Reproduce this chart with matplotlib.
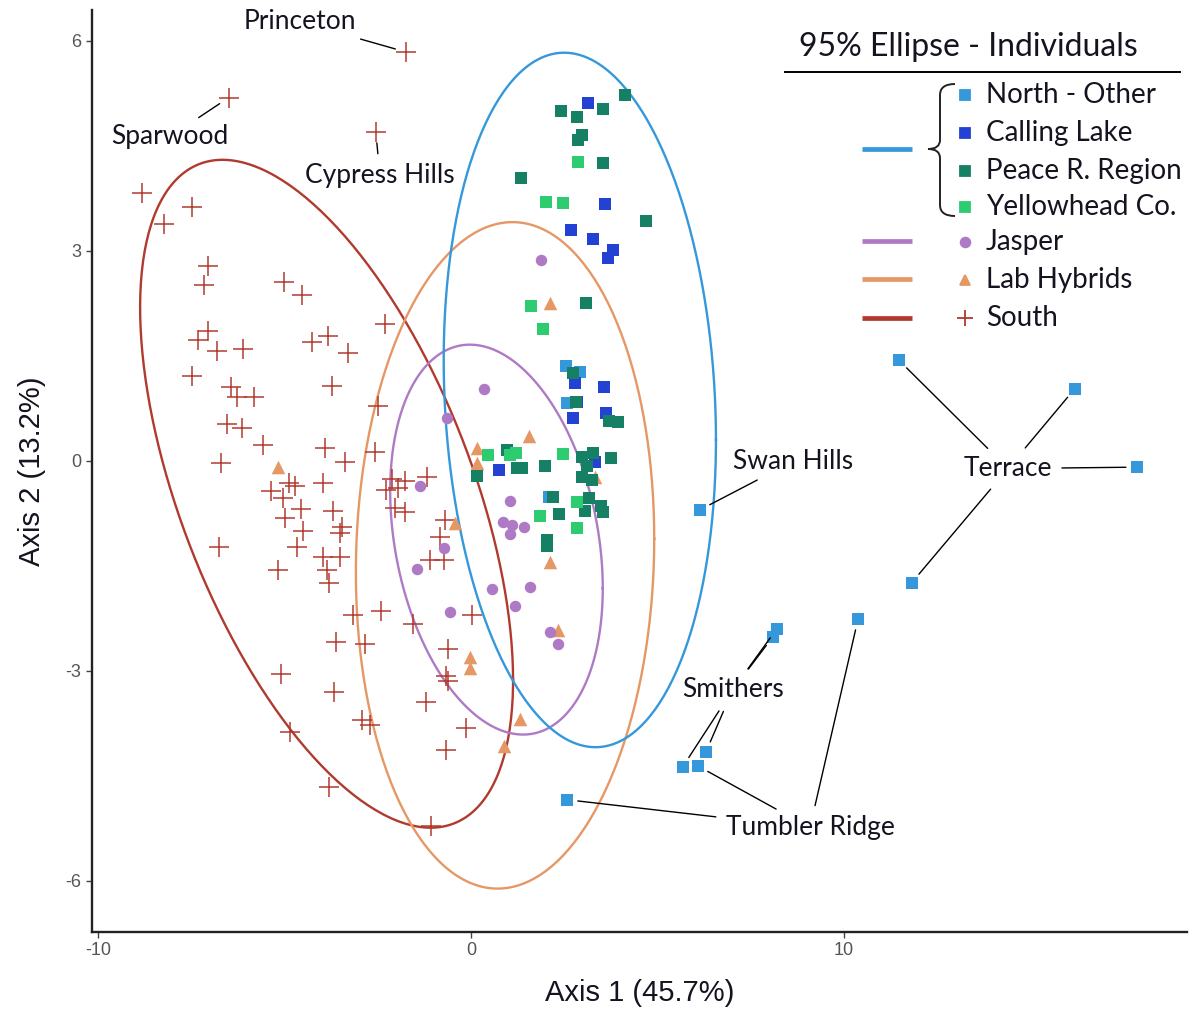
import numpy as np
import matplotlib.pyplot as plt
from matplotlib.path import Path
from matplotlib.patches import PathPatch
from matplotlib.lines import Line2D

plt.rcParams['font.family'] = ['Lato', 'DejaVu Sans']
plt.rcParams['axes.unicode_minus'] = False

W, H = 1197, 1010

# ---- PCA scores per group (Axis 1, Axis 2) ----
south_x = [-8.83, -8.23, -7.47, -7.04, -7.16, -5.01, -4.53, -2.31, -7.04, -7.31,
           -6.82, -6.10, -4.27, -3.84, -3.29, -7.49, -6.42, -6.28, -5.81, -3.72,
           -2.49, -6.55, -6.15, -5.58, -6.71, -3.91, -3.38, -2.57, -3.96, -5.37,
           -4.87, -4.72, -5.05, -4.56, -4.99, -3.69, -3.47, -4.51, -3.51, -6.75,
           -4.66, -3.96, -3.51, -5.18, -3.85, -3.80, -2.12, -1.77, -2.28, -1.96,
           -1.18, -2.04, -1.77, -0.70, -0.83, -1.10, -0.72, -3.16, -2.42, -1.56,
           0.02, -3.63, -2.84, -0.61, -5.10, -0.67, -0.61, -3.66, -1.21, -2.93,
           -2.71, -0.12, -4.85, -0.67, -3.80, -1.08, -1.74, -6.49, -2.55]
south_y = [3.83, 3.39, 3.62, 2.79, 2.51, 2.56, 2.37, 1.95, 1.85, 1.72,
           1.57, 1.60, 1.70, 1.78, 1.54, 1.21, 1.06, 0.91, 0.91, 1.07,
           0.79, 0.53, 0.47, 0.23, -0.03, 0.19, -0.01, 0.12, -0.31, -0.43,
           -0.32, -0.36, -0.53, -0.69, -0.82, -0.71, -0.94, -1.00, -1.03, -1.23,
           -1.23, -1.38, -1.37, -1.56, -1.56, -1.75, -0.26, -0.29, -0.41, -0.39,
           -0.23, -0.67, -0.73, -0.85, -1.09, -1.41, -1.41, -2.20, -2.15, -2.33,
           -2.20, -2.59, -2.61, -2.69, -3.05, -3.08, -3.15, -3.30, -3.44, -3.70,
           -3.77, -3.82, -3.87, -4.13, -4.66, -5.22, 5.84, 5.19, 4.70]

lab_x = [-5.17, -0.43, 0.16, 0.16, 1.55, 2.12, 2.12, 2.33, -0.03, -0.03, 1.31, 0.88, 3.32]
lab_y = [-0.09, -0.89, 0.19, -0.03, 0.36, 2.26, -1.44, -2.41, -2.80, -2.96, -3.69, -4.07, -0.23]

jasper_x = [1.88, 0.35, -0.64, -1.37, 1.05, 0.86, 1.10, 1.42, 1.05, -0.72,
            -1.45, 0.56, 1.58, 1.18, -0.56, 2.12, 2.33]
jasper_y = [2.87, 1.03, 0.61, -0.36, -0.57, -0.87, -0.91, -0.94, -1.04, -1.24,
            -1.54, -1.83, -1.80, -2.07, -2.16, -2.44, -2.61]

north_x = [11.47, 16.19, 17.86, 11.82, 10.38, 6.14, 8.20, 8.10, 6.30, 6.09,
           5.68, 2.57, 2.55, 2.92, 2.57, 2.09]
north_y = [1.44, 1.03, -0.09, -1.74, -2.26, -0.70, -2.40, -2.51, -4.16, -4.36,
           -4.37, -4.84, 1.36, 1.27, 0.83, -0.51]

calling_x = [3.14, 3.59, 2.68, 3.27, 3.81, 3.67, 2.79, 3.57, 2.84, 2.73, 3.62, 0.75, 3.32]
calling_y = [5.11, 3.67, 3.30, 3.17, 3.01, 2.90, 1.11, 1.06, 0.84, 0.61, 0.69, -0.13, -0.01]

peace_x = [4.13, 2.41, 3.54, 2.84, 2.98, 2.87, 3.54, 1.34, 4.69, 3.08,
           2.73, 2.82, 3.70, 3.94, 0.97, 1.23, 1.37, 1.98, 0.16, 3.27,
           3.75, 2.98, 3.11, 2.98, 3.24, 2.20, 2.36, 3.16, 3.49, 3.54,
           3.06, 2.04, 2.04]
peace_y = [5.23, 5.00, 5.03, 4.91, 4.66, 4.59, 4.26, 4.04, 3.43, 2.26,
           1.26, 0.84, 0.57, 0.56, 0.16, -0.10, -0.10, -0.07, -0.21, 0.11,
           0.04, 0.06, -0.07, -0.23, -0.27, -0.51, -0.76, -0.53, -0.64, -0.73,
           -0.71, -1.13, -1.21]

yellow_x = [2.87, 2.01, 2.47, 1.61, 1.93, 0.46, 1.05, 1.21, 2.47, 2.84, 1.85, 2.84]
yellow_y = [4.27, 3.70, 3.69, 2.21, 1.89, 0.09, 0.09, 0.11, 0.10, -0.59, -0.79, -0.96]

# 95% ellipses: centre x, centre y, half-width x, half-height y, correlation
ell_north = [2.92, 0.87, 3.65, 4.96, -0.115]
ell_jasper = [0.685, -1.125, 2.85, 2.785, -0.25]
ell_lab = [0.915, -1.35, 4.0, 4.76, 0.05]
ell_south = [-3.87, -0.47, 5.0, 4.77, -0.558]

c_north = '#3498DB'
c_calling = '#2342D4'
c_peace = '#168064'
c_yellow = '#2ECC71'
c_jasper = '#AF7AC5'
c_lab = '#E59866'
c_south = '#B03A2E'
c_text = '#141420'
narrow = ['Liberation Sans Narrow', 'Liberation Sans', 'DejaVu Sans']


def ellipse_xy(cx, cy, rx, ry, rho, n=300):
    t = np.linspace(0, 2 * np.pi, n)
    x = cx + rx * np.cos(t)
    y = cy + ry * (rho * np.cos(t) + np.sqrt(1 - rho ** 2) * np.sin(t))
    return x, y


fig = plt.figure(figsize=(W / 100, H / 100), dpi=100)
ax = fig.add_axes([92 / W, 1 - 932 / H, (1187 - 92) / W, (932 - 10) / H])

for ell, col in [(ell_south, c_south), (ell_lab, c_lab), (ell_jasper, c_jasper), (ell_north, c_north)]:
    ex, ey = ellipse_xy(*ell)
    ax.plot(ex, ey, color=col, lw=1.7, zorder=2)

ax.scatter(south_x, south_y, marker='+', s=200, color=c_south, linewidths=1.1, zorder=3)
ax.scatter(lab_x, lab_y, marker='^', s=95, color=c_lab, linewidths=0, zorder=3)
ax.scatter(jasper_x, jasper_y, marker='o', s=68, color=c_jasper, linewidths=0, zorder=3)
sq = 80
ax.scatter(north_x, north_y, marker='s', s=sq, color=c_north, linewidths=0, zorder=3)
ax.scatter(calling_x, calling_y, marker='s', s=sq, color=c_calling, linewidths=0, zorder=3)
ax.scatter(peace_x, peace_y, marker='s', s=sq, color=c_peace, linewidths=0, zorder=3)
ax.scatter(yellow_x, yellow_y, marker='s', s=sq, color=c_yellow, linewidths=0, zorder=3)


def label(text, tx, ty, xs, ys, idx):
    # one visible label, extra copies invisible so every leader starts at the text box
    for k, i in enumerate(idx):
        ax.annotate(text, xy=(xs[i], ys[i]), xytext=(tx, ty), ha='center', va='center',
                    fontsize=19, color=c_text if k == 0 else 'none', zorder=4,
                    arrowprops=dict(arrowstyle='-', color='black', lw=1.0,
                                    shrinkA=5, shrinkB=8))


label('Princeton', -4.58, 6.27, south_x, south_y, [76])
label('Sparwood', -8.07, 4.63, south_x, south_y, [77])
label('Cypress Hills', -2.44, 4.07, south_x, south_y, [78])
label('Swan Hills', 8.63, -0.01, north_x, north_y, [5])
label('Terrace', 14.40, -0.11, north_x, north_y, [0, 1, 2, 3])
label('Smithers', 7.02, -3.27, north_x, north_y, [6, 7, 10, 8])
label('Tumbler Ridge', 9.09, -5.24, north_x, north_y, [11, 9, 4])

ax.set_xlim(-10.16, 19.2)
ax.set_ylim(-6.73, 6.44)
ax.set_xticks([-10, 0, 10])
ax.set_yticks([-6, -3, 0, 3, 6])
for s in ['top', 'right']:
    ax.spines[s].set_visible(False)
for s in ['left', 'bottom']:
    ax.spines[s].set_linewidth(1.7)
    ax.spines[s].set_color('#222222')
ax.tick_params(length=4, width=1, color='#444444', labelcolor='#555555', labelsize=13)
for t in ax.get_xticklabels() + ax.get_yticklabels():
    t.set_family(narrow)
ax.set_xlabel('Axis 1 (45.7%)', fontsize=21, labelpad=14, family=narrow, color=c_text)
ax.set_ylabel('Axis 2 (13.2%)', fontsize=21, labelpad=14, family=narrow, color=c_text)


# ---- hand-built legend (figure pixel positions) ----
def fp(px, py):
    return px / W, 1 - py / H


tf = fig.transFigure
fig.text(*fp(968, 47), '95% Ellipse - Individuals', ha='center', va='center', fontsize=23,
         color=c_text, transform=tf)
fig.add_artist(Line2D([785 / W, 1180 / W], [1 - 72 / H, 1 - 72 / H], transform=tf,
                      color='black', lw=1.4))

legend_rows = [('North - Other', 's', c_north, 95),
               ('Calling Lake', 's', c_calling, 133),
               ('Peace R. Region', 's', c_peace, 171),
               ('Yellowhead Co.', 's', c_yellow, 207),
               ('Jasper', 'o', c_jasper, 242),
               ('Lab Hybrids', '^', c_lab, 280),
               ('South', '+', c_south, 318)]
for name, mk, col, py in legend_rows:
    mx, my = fp(965, py)
    fig.add_artist(Line2D([mx], [my], transform=tf, marker=mk, color=col,
                          markersize=11 if mk == '+' else 7, mew=1.3, ls='none'))
    fig.text(*fp(986, py), name, ha='left', va='center', fontsize=20,
             color=c_text, transform=tf)

for col, py in [(c_north, 149), (c_jasper, 241), (c_lab, 279), (c_south, 318)]:
    fig.add_artist(Line2D([862 / W, 912 / W], [1 - py / H, 1 - py / H], transform=tf,
                          color=col, lw=3.4, solid_capstyle='butt'))

# curly brace grouping the northern populations
brace = [(955, 84), (940, 84), (940, 95), (940, 140), (940, 149), (928, 149),
         (940, 149), (940, 158), (940, 205), (940, 216), (955, 216)]
codes = [Path.MOVETO, Path.CURVE3, Path.CURVE3, Path.LINETO, Path.CURVE3, Path.CURVE3,
         Path.CURVE3, Path.CURVE3, Path.LINETO, Path.CURVE3, Path.CURVE3]
verts = [fp(px, py) for px, py in brace]
fig.add_artist(PathPatch(Path(verts, codes), transform=tf, fill=False,
                         edgecolor='#222222', lw=1.4))

fig.savefig('out.png', dpi=100)
